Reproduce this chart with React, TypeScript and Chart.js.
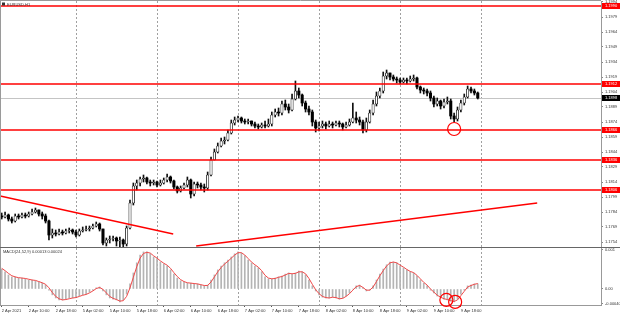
import React, { useEffect, useRef } from 'react';
import { Chart, registerables } from 'chart.js';

Chart.register(...registerables);

const FONT = 'Liberation Sans, Arial, sans-serif';

// ---------------- data ----------------
const symbolTitle = 'EURUSD,H1';
const macdTitle = 'MACD(24,52,9) 0.00013 0.00024';
const futureSlots = 36;

const timeLabelIndex = [0, 8, 16, 24, 32, 40, 48, 56, 64, 72, 80, 88, 96, 104, 112, 120, 128, 136];
const timeLabelText = [
  '2 Apr 2021', '2 Apr 10:00', '2 Apr 18:00', '5 Apr 02:00', '5 Apr 10:00', '5 Apr 18:00',
  '6 Apr 02:00', '6 Apr 10:00', '6 Apr 18:00', '7 Apr 02:00', '7 Apr 10:00', '7 Apr 18:00',
  '8 Apr 02:00', '8 Apr 10:00', '8 Apr 18:00', '9 Apr 02:00', '9 Apr 10:00', '9 Apr 18:00',
];
const daySeparatorIndex = [22, 46, 70, 94, 118, 142];

const opens = [
  1.1780, 1.1779, 1.1781, 1.1777, 1.1775, 1.1780, 1.1779, 1.1781, 1.1780, 1.1782,
  1.1784, 1.1786, 1.1782, 1.1780, 1.1775, 1.1761, 1.1763, 1.1762, 1.1764, 1.1763,
  1.1765, 1.1766, 1.1764, 1.1761, 1.1765, 1.1766, 1.1767, 1.1768, 1.1770, 1.1772,
  1.1767, 1.1753, 1.1756, 1.1757, 1.1758, 1.1755, 1.1756, 1.1752, 1.1768, 1.1793,
  1.1810, 1.1813, 1.1817, 1.1818, 1.1814, 1.1813, 1.1814, 1.1811, 1.1813, 1.1816,
  1.1819, 1.1815, 1.1809, 1.1805, 1.1808, 1.1811, 1.1816, 1.1802, 1.1812, 1.1811,
  1.1809, 1.1808, 1.1821, 1.1836, 1.1844, 1.1850, 1.1855, 1.1856, 1.1863, 1.1873,
  1.1876, 1.1878, 1.1875, 1.1874, 1.1875, 1.1872, 1.1870, 1.1869, 1.1871, 1.1870,
  1.1872, 1.1881, 1.1884, 1.1883, 1.1892, 1.1889, 1.1886, 1.1897, 1.1905, 1.1901,
  1.1893, 1.1887, 1.1884, 1.1874, 1.1868, 1.1870, 1.1872, 1.1870, 1.1872, 1.1871,
  1.1873, 1.1872, 1.1869, 1.1871, 1.1874, 1.1878, 1.1876, 1.1874, 1.1866, 1.1874,
  1.1883, 1.1892, 1.1900, 1.1905, 1.1920, 1.1923, 1.1919, 1.1917, 1.1916, 1.1914,
  1.1916, 1.1915, 1.1917, 1.1918, 1.1909, 1.1906, 1.1905, 1.1903, 1.1898, 1.1892,
  1.1895, 1.1890, 1.1894, 1.1895, 1.1880, 1.1877, 1.1886, 1.1893, 1.1899, 1.1907,
  1.1905, 1.1903,
];
const highs = [
  1.1783, 1.1784, 1.1782, 1.1779, 1.1782, 1.1782, 1.1783, 1.1783, 1.1784, 1.1787,
  1.1788, 1.1786, 1.1784, 1.1782, 1.1776, 1.1767, 1.1766, 1.1767, 1.1766, 1.1767,
  1.1768, 1.1767, 1.1766, 1.1767, 1.1769, 1.1770, 1.1770, 1.1772, 1.1774, 1.1773,
  1.1767, 1.1758, 1.1760, 1.1760, 1.1759, 1.1759, 1.1757, 1.1770, 1.1796, 1.1813,
  1.1816, 1.1819, 1.1821, 1.1819, 1.1816, 1.1816, 1.1815, 1.1816, 1.1818, 1.1822,
  1.1820, 1.1816, 1.1810, 1.1810, 1.1813, 1.1819, 1.1817, 1.1814, 1.1814, 1.1813,
  1.1812, 1.1824, 1.1839, 1.1847, 1.1853, 1.1858, 1.1859, 1.1866, 1.1876, 1.1879,
  1.1880, 1.1879, 1.1877, 1.1877, 1.1875, 1.1874, 1.1872, 1.1873, 1.1875, 1.1877,
  1.1884, 1.1887, 1.1888, 1.1895, 1.1896, 1.1892, 1.1902, 1.1915, 1.1908, 1.1902,
  1.1895, 1.1890, 1.1886, 1.1876, 1.1874, 1.1875, 1.1874, 1.1875, 1.1874, 1.1875,
  1.1875, 1.1873, 1.1874, 1.1877, 1.1893, 1.1884, 1.1879, 1.1876, 1.1878, 1.1886,
  1.1896, 1.1904, 1.1908, 1.1924, 1.1926, 1.1923, 1.1921, 1.1919, 1.1918, 1.1918,
  1.1918, 1.1920, 1.1921, 1.1919, 1.1910, 1.1908, 1.1907, 1.1905, 1.1900, 1.1898,
  1.1896, 1.1897, 1.1899, 1.1897, 1.1883, 1.1889, 1.1896, 1.1902, 1.1910, 1.1909,
  1.1907, 1.1904,
];
const lows = [
  1.1777, 1.1778, 1.1775, 1.1773, 1.1774, 1.1777, 1.1778, 1.1778, 1.1779, 1.1781,
  1.1783, 1.1780, 1.1777, 1.1773, 1.1756, 1.1758, 1.1760, 1.1761, 1.1761, 1.1762,
  1.1763, 1.1762, 1.1759, 1.1760, 1.1764, 1.1765, 1.1765, 1.1767, 1.1769, 1.1765,
  1.1751, 1.1750, 1.1753, 1.1755, 1.1750, 1.1749, 1.1749, 1.1750, 1.1767, 1.1791,
  1.1806, 1.1810, 1.1814, 1.1812, 1.1810, 1.1811, 1.1809, 1.1810, 1.1812, 1.1814,
  1.1813, 1.1807, 1.1803, 1.1804, 1.1807, 1.1809, 1.1798, 1.1800, 1.1808, 1.1806,
  1.1804, 1.1806, 1.1820, 1.1836, 1.1843, 1.1849, 1.1852, 1.1855, 1.1862, 1.1871,
  1.1874, 1.1873, 1.1872, 1.1872, 1.1870, 1.1868, 1.1867, 1.1868, 1.1868, 1.1869,
  1.1870, 1.1879, 1.1880, 1.1881, 1.1886, 1.1883, 1.1885, 1.1896, 1.1898, 1.1890,
  1.1884, 1.1881, 1.1870, 1.1864, 1.1865, 1.1868, 1.1867, 1.1869, 1.1868, 1.1870,
  1.1869, 1.1866, 1.1868, 1.1870, 1.1873, 1.1873, 1.1871, 1.1863, 1.1864, 1.1873,
  1.1881, 1.1890, 1.1898, 1.1903, 1.1917, 1.1916, 1.1915, 1.1913, 1.1912, 1.1913,
  1.1912, 1.1914, 1.1915, 1.1907, 1.1903, 1.1902, 1.1900, 1.1895, 1.1889, 1.1890,
  1.1887, 1.1888, 1.1892, 1.1877, 1.1874, 1.1875, 1.1884, 1.1891, 1.1898, 1.1903,
  1.1901, 1.1897,
];
const closes = [
  1.1779, 1.1781, 1.1777, 1.1775, 1.1780, 1.1779, 1.1781, 1.1780, 1.1782, 1.1784,
  1.1786, 1.1782, 1.1780, 1.1775, 1.1761, 1.1763, 1.1762, 1.1764, 1.1763, 1.1765,
  1.1766, 1.1764, 1.1761, 1.1765, 1.1766, 1.1767, 1.1768, 1.1770, 1.1772, 1.1767,
  1.1753, 1.1756, 1.1757, 1.1758, 1.1755, 1.1756, 1.1752, 1.1768, 1.1793, 1.1810,
  1.1813, 1.1817, 1.1818, 1.1814, 1.1813, 1.1814, 1.1811, 1.1813, 1.1816, 1.1819,
  1.1815, 1.1809, 1.1805, 1.1808, 1.1811, 1.1816, 1.1802, 1.1812, 1.1811, 1.1809,
  1.1808, 1.1821, 1.1836, 1.1844, 1.1850, 1.1855, 1.1856, 1.1863, 1.1873, 1.1876,
  1.1878, 1.1875, 1.1874, 1.1875, 1.1872, 1.1870, 1.1869, 1.1871, 1.1870, 1.1872,
  1.1881, 1.1884, 1.1883, 1.1892, 1.1889, 1.1886, 1.1897, 1.1905, 1.1901, 1.1893,
  1.1887, 1.1884, 1.1874, 1.1868, 1.1870, 1.1872, 1.1870, 1.1872, 1.1871, 1.1873,
  1.1872, 1.1869, 1.1871, 1.1874, 1.1878, 1.1876, 1.1874, 1.1866, 1.1874, 1.1883,
  1.1892, 1.1900, 1.1905, 1.1920, 1.1923, 1.1919, 1.1917, 1.1916, 1.1914, 1.1916,
  1.1915, 1.1917, 1.1918, 1.1909, 1.1906, 1.1905, 1.1903, 1.1898, 1.1892, 1.1895,
  1.1890, 1.1894, 1.1895, 1.1880, 1.1877, 1.1886, 1.1893, 1.1899, 1.1907, 1.1905,
  1.1903, 1.1898,
];

const macdMain = [
  0.00051, 0.00044, 0.00036, 0.00031, 0.00031, 0.00028, 0.00028, 0.00026, 0.00023, 0.00023,
  0.00021, 0.00018, 0.00015, 0.00010, -0.00003, -0.00015, -0.00023, -0.00028, -0.00028, -0.00026,
  -0.00023, -0.00023, -0.00021, -0.00018, -0.00015, -0.00013, -0.00008, -0.00003, 0.00003, 0.00005,
  -0.00005, -0.00015, -0.00023, -0.00026, -0.00028, -0.00033, -0.00028, -0.00013, 0.00013, 0.00041,
  0.00067, 0.00087, 0.00095, 0.00095, 0.00090, 0.00082, 0.00077, 0.00069, 0.00064, 0.00059,
  0.00049, 0.00038, 0.00028, 0.00021, 0.00018, 0.00015, 0.00015, 0.00013, 0.00013, 0.00010,
  0.00008, 0.00010, 0.00023, 0.00036, 0.00049, 0.00059, 0.00067, 0.00074, 0.00082, 0.00090,
  0.00095, 0.00092, 0.00085, 0.00074, 0.00067, 0.00059, 0.00054, 0.00044, 0.00031, 0.00026,
  0.00026, 0.00028, 0.00031, 0.00033, 0.00038, 0.00041, 0.00038, 0.00041, 0.00046, 0.00044,
  0.00036, 0.00023, 0.00008, -0.00005, -0.00015, -0.00021, -0.00023, -0.00023, -0.00021, -0.00023,
  -0.00026, -0.00023, -0.00018, -0.00010, 0.00000, 0.00008, 0.00010, 0.00003, -0.00005, -0.00003,
  0.00008, 0.00023, 0.00038, 0.00051, 0.00062, 0.00069, 0.00069, 0.00067, 0.00059, 0.00054,
  0.00049, 0.00044, 0.00041, 0.00033, 0.00023, 0.00015, 0.00008, -0.00003, -0.00010, -0.00018,
  -0.00023, -0.00026, -0.00028, -0.00031, -0.00033, -0.00026, -0.00013, -0.00003, 0.00008, 0.00010,
  0.00013, 0.00013,
];
const macdSignal = [
  0.00053, 0.00047, 0.00040, 0.00034, 0.00031, 0.00029, 0.00028, 0.00027, 0.00025, 0.00023,
  0.00022, 0.00019, 0.00016, 0.00012, 0.00003, -0.00009, -0.00019, -0.00025, -0.00028, -0.00027,
  -0.00025, -0.00023, -0.00022, -0.00019, -0.00016, -0.00014, -0.00010, -0.00005, 0.00001, 0.00004,
  -0.00001, -0.00010, -0.00019, -0.00024, -0.00027, -0.00031, -0.00030, -0.00019, 0.00003, 0.00030,
  0.00057, 0.00079, 0.00091, 0.00094, 0.00092, 0.00085, 0.00079, 0.00072, 0.00066, 0.00061,
  0.00053, 0.00042, 0.00032, 0.00024, 0.00019, 0.00016, 0.00015, 0.00014, 0.00013, 0.00011,
  0.00009, 0.00009, 0.00018, 0.00031, 0.00044, 0.00055, 0.00064, 0.00071, 0.00079, 0.00087,
  0.00093, 0.00093, 0.00087, 0.00078, 0.00069, 0.00062, 0.00056, 0.00047, 0.00035, 0.00028,
  0.00026, 0.00027, 0.00030, 0.00032, 0.00036, 0.00040, 0.00039, 0.00040, 0.00044, 0.00044,
  0.00039, 0.00027, 0.00012, -0.00002, -0.00012, -0.00019, -0.00022, -0.00023, -0.00021, -0.00022,
  -0.00025, -0.00024, -0.00019, -0.00012, -0.00003, 0.00006, 0.00009, 0.00004, -0.00003, -0.00003,
  0.00005, 0.00019, 0.00034, 0.00047, 0.00059, 0.00067, 0.00069, 0.00067, 0.00061, 0.00056,
  0.00050, 0.00045, 0.00042, 0.00035, 0.00026, 0.00017, 0.00010, 0.00000, -0.00008, -0.00016,
  -0.00021, -0.00025, -0.00027, -0.00030, -0.00032, -0.00028, -0.00017, -0.00006, 0.00005, 0.00009,
  0.00012, 0.00014,
];

const priceTicks = [
  1.1994, 1.1979, 1.1964, 1.1949, 1.1934, 1.1919, 1.1904, 1.1889, 1.1874,
  1.1859, 1.1844, 1.1829, 1.1814, 1.1799, 1.1784, 1.1769, 1.1754,
];
const levelLines = [1.1990, 1.1912, 1.1866, 1.1836, 1.1806];
const lastPrice = 1.1898;
const trendLines = [
  { i0: -0.45, p0: 1.1800, i1: 50.8, p1: 1.1762 },
  { i0: 57.6, p0: 1.1750, i1: 158.6, p1: 1.1793 },
];
const priceCircles = [{ i: 134, p: 1.1867 }];
const macdCircles = [{ i: 131.7, v: -0.00028 }, { i: 134.3, v: -0.00033 }];
const macdTicks = [0.001, 0, -0.00038];
const macdTickText = ['0.001', '0.00', '-0.00040'];
const priceMin = 1.1749;
const priceMax = 1.1995;
const macdMin = -0.00041;
const macdMax = 0.00105;

// ---------------- helpers ----------------
const RED = '#ff0000';
const AXIS_W = 19;

function slotLabels(): string[] {
  return Array.from({ length: closes.length + futureSlots }, (_, i) => {
    const k = timeLabelIndex.indexOf(i);
    return k >= 0 ? timeLabelText[k] : '';
  });
}

function seg(ctx: CanvasRenderingContext2D, x0: number, y0: number, x1: number, y1: number) {
  ctx.beginPath();
  ctx.moveTo(x0, y0);
  ctx.lineTo(x1, y1);
  ctx.stroke();
}

function daySeps(chart: any) {
  const { ctx, chartArea: a, scales } = chart;
  ctx.save();
  ctx.strokeStyle = '#a0a0a0';
  ctx.lineWidth = 1;
  ctx.setLineDash([2, 2]);
  daySeparatorIndex.forEach((i) => {
    const x = Math.round(scales.x.getPixelForValue(i)) + 0.5;
    seg(ctx, x, a.top, x, a.bottom);
  });
  ctx.restore();
}

const mainOverlay = {
  id: 'mainOverlay',
  beforeDatasetsDraw(chart: any) {
    daySeps(chart);
    const { ctx, chartArea: a, scales } = chart;
    ctx.save();
    const by = Math.round(scales.y.getPixelForValue(lastPrice)) + 0.5;
    ctx.strokeStyle = '#c4c4c4';
    ctx.lineWidth = 1;
    seg(ctx, a.left, by, a.right, by);
    ctx.restore();
  },
  afterDatasetsDraw(chart: any) {
    const { ctx, chartArea: a, scales } = chart;
    const xs = scales.x, ys = scales.y;
    ctx.save();
    ctx.beginPath();
    ctx.rect(a.left, a.top, a.right - a.left, a.bottom - a.top);
    ctx.clip();
    ctx.strokeStyle = RED;
    ctx.lineWidth = 1.3;
    levelLines.forEach((p) => {
      const y = ys.getPixelForValue(p);
      seg(ctx, a.left, y, a.right, y);
    });
    trendLines.forEach((t) => {
      seg(ctx, xs.getPixelForValue(t.i0), ys.getPixelForValue(t.p0), xs.getPixelForValue(t.i1), ys.getPixelForValue(t.p1));
    });
    ctx.lineWidth = 1.2;
    priceCircles.forEach((c) => {
      ctx.beginPath();
      ctx.arc(xs.getPixelForValue(c.i), ys.getPixelForValue(c.p), 6.5, 0, Math.PI * 2);
      ctx.stroke();
    });
    ctx.restore();
  },
  afterDraw(chart: any) {
    const { ctx, chartArea: a, scales, width } = chart;
    const ys = scales.y;
    ctx.save();
    ctx.strokeStyle = '#9a9a9a';
    ctx.lineWidth = 1;
    seg(ctx, 0.5, 0, 0.5, a.bottom);
    seg(ctx, 0, 0.5, a.right, 0.5);
    ctx.strokeStyle = '#666';
    seg(ctx, 0, a.bottom + 0.5, width, a.bottom + 0.5);
    ctx.fillStyle = '#333';
    ctx.fillRect(2, 2.5, 3, 3);
    ctx.font = `4px ${FONT}`;
    ctx.textBaseline = 'middle';
    ctx.textAlign = 'left';
    ctx.fillText(symbolTitle, 7, 4.5);
    const drawBox = (p: number, bg: string) => {
      const y = ys.getPixelForValue(p);
      ctx.fillStyle = bg;
      ctx.fillRect(a.right + 1, y - 3, width - a.right - 1, 6);
      ctx.fillStyle = '#ffffff';
      ctx.fillText(p.toFixed(4), a.right + 4, y + 0.3);
    };
    levelLines.forEach((p) => drawBox(p, RED));
    drawBox(lastPrice, '#000000');
    ctx.restore();
  },
};

const macdOverlay = {
  id: 'macdOverlay',
  beforeDatasetsDraw(chart: any) {
    daySeps(chart);
  },
  afterDatasetsDraw(chart: any) {
    const { ctx, scales } = chart;
    ctx.save();
    ctx.strokeStyle = RED;
    ctx.lineWidth = 1.2;
    macdCircles.forEach((c) => {
      ctx.beginPath();
      ctx.arc(scales.x.getPixelForValue(c.i), scales.y.getPixelForValue(c.v), 6.5, 0, Math.PI * 2);
      ctx.stroke();
    });
    ctx.restore();
  },
  afterDraw(chart: any) {
    const { ctx, chartArea: a } = chart;
    ctx.save();
    ctx.strokeStyle = '#9a9a9a';
    ctx.lineWidth = 1;
    seg(ctx, 0.5, a.top, 0.5, a.bottom);
    ctx.fillStyle = '#333';
    ctx.font = `4px ${FONT}`;
    ctx.textBaseline = 'middle';
    ctx.textAlign = 'left';
    ctx.fillText(macdTitle, 3, a.top + 3.5);
    ctx.restore();
  },
};

function yAxisCommon(w: number) {
  return (s: any) => {
    s.width = w;
    s.paddingTop = 0;
    s.paddingBottom = 0;
  };
}

function buildMain(canvas: HTMLCanvasElement) {
  const up = closes.map((c, i) => c > opens[i]);
  return new Chart(canvas, {
    type: 'bar',
    data: {
      labels: slotLabels(),
      datasets: [
        {
          label: 'body',
          data: closes.map((c, i) => [opens[i], c]),
          backgroundColor: up.map((u) => (u ? '#ffffff' : '#000000')),
          borderColor: '#000000',
          borderWidth: up.map((u) => (u ? 0.7 : 0)),
          borderSkipped: false,
          barThickness: 2.4,
          minBarLength: 1,
          grouped: false,
        } as any,
        {
          label: 'wick',
          data: closes.map((_, i) => [lows[i], highs[i]]),
          backgroundColor: '#111111',
          borderWidth: 0,
          barThickness: 1,
          grouped: false,
        } as any,
      ],
    },
    options: {
      responsive: false,
      devicePixelRatio: 1,
      animation: false,
      events: [],
      layout: { padding: { top: 1, bottom: 1, left: 0, right: 0 } },
      plugins: { legend: { display: false }, tooltip: { enabled: false } },
      scales: {
        x: { display: false, offset: true },
        y: {
          position: 'right',
          min: priceMin,
          max: priceMax,
          afterBuildTicks: (s: any) => {
            s.ticks = priceTicks.map((v) => ({ value: v }));
          },
          afterFit: yAxisCommon(AXIS_W),
          ticks: {
            autoSkip: false,
            font: { size: 4, family: FONT },
            color: '#333',
            padding: 2,
            callback: (v: any) => Number(v).toFixed(4),
          },
          grid: { drawOnChartArea: false, tickLength: 2, color: '#888' },
          border: { color: '#999' },
        },
      },
    } as any,
    plugins: [mainOverlay as any],
  });
}

function buildMacd(canvas: HTMLCanvasElement) {
  return new Chart(canvas, {
    type: 'bar',
    data: {
      labels: slotLabels(),
      datasets: [
        {
          type: 'line',
          label: 'signal',
          data: macdSignal,
          borderColor: '#f04848',
          borderWidth: 1,
          pointRadius: 0,
          tension: 0,
          fill: false,
        } as any,
        {
          type: 'bar',
          label: 'macd',
          data: macdMain,
          backgroundColor: '#b4b4b4',
          borderWidth: 0,
          barThickness: 1,
          grouped: false,
        } as any,
      ],
    },
    options: {
      responsive: false,
      devicePixelRatio: 1,
      animation: false,
      events: [],
      layout: { padding: { top: 1, bottom: 0, left: 0, right: 0 } },
      plugins: { legend: { display: false }, tooltip: { enabled: false } },
      scales: {
        x: {
          offset: true,
          afterFit: (s: any) => {
            s.height = 11;
            s.paddingLeft = 0;
            s.paddingRight = 0;
          },
          ticks: {
            autoSkip: false,
            maxRotation: 0,
            minRotation: 0,
            align: 'start',
            font: { size: 4, family: FONT },
            color: '#333',
            padding: 1,
          },
          grid: {
            offset: false,
            drawOnChartArea: false,
            tickLength: 2,
            color: (c: any) => (timeLabelIndex.includes(c.index) ? '#555' : 'rgba(0,0,0,0)'),
          },
          border: { color: '#999' },
        },
        y: {
          position: 'right',
          min: macdMin,
          max: macdMax,
          afterBuildTicks: (s: any) => {
            s.ticks = macdTicks.map((v) => ({ value: v }));
          },
          afterFit: yAxisCommon(AXIS_W),
          ticks: {
            autoSkip: false,
            font: { size: 4, family: FONT },
            color: '#333',
            padding: 2,
            callback: (_v: any, i: number) => macdTickText[i],
          },
          grid: { drawOnChartArea: false, tickLength: 2, color: '#888' },
          border: { color: '#999' },
        },
      },
    } as any,
    plugins: [macdOverlay as any],
  });
}

export default function App() {
  const mainRef = useRef<HTMLCanvasElement>(null);
  const macdRef = useRef<HTMLCanvasElement>(null);
  useEffect(() => {
    const c1 = buildMain(mainRef.current!);
    const c2 = buildMacd(macdRef.current!);
    return () => {
      c1.destroy();
      c2.destroy();
    };
  }, []);
  return (
    <div style={{ position: 'fixed', left: 0, top: 0, width: 620, height: 316, background: '#ffffff', overflow: 'hidden' }}>
      <canvas ref={mainRef} width={620} height={248} style={{ position: 'absolute', left: 0, top: 0, width: 620, height: 248 }} />
      <canvas ref={macdRef} width={620} height={69} style={{ position: 'absolute', left: 0, top: 247, width: 620, height: 69 }} />
    </div>
  );
}
